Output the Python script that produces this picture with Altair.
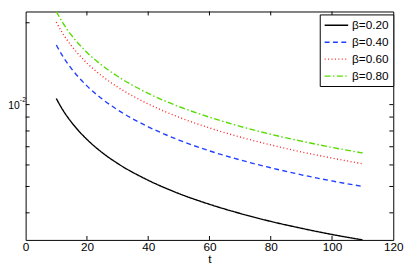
import altair as alt
import pandas as pd

t_vals = [10, 12, 15, 17, 20, 25, 30, 40, 50, 60, 70, 80, 90, 100, 110]
beta_020 = [0.01053, 0.00961, 0.00860, 0.00808, 0.00745, 0.00666, 0.00608, 0.00527, 0.00471,
            0.00430, 0.00398, 0.00372, 0.00351, 0.00333, 0.00318]
beta_040 = [0.01657, 0.01513, 0.01353, 0.01271, 0.01172, 0.01048, 0.00957, 0.00829, 0.00741,
            0.00676, 0.00626, 0.00586, 0.00552, 0.00524, 0.00500]
beta_060 = [0.02011, 0.01836, 0.01642, 0.01543, 0.01422, 0.01272, 0.01161, 0.01006, 0.00899,
            0.00821, 0.00760, 0.00711, 0.00670, 0.00636, 0.00606]
beta_080 = [0.02201, 0.02009, 0.01797, 0.01688, 0.01556, 0.01392, 0.01271, 0.01100, 0.00984,
            0.00899, 0.00832, 0.00778, 0.00734, 0.00696, 0.00664]
series_names = ["β=0.20", "β=0.40", "β=0.60", "β=0.80"]
series_colors = ["#000000", "#1f3fff", "#ff2020", "#55dd00"]
series_dashes = [[1, 0], [5, 3.5], [1, 2.5], [6, 2.5, 1.5, 2.5]]

x_ticks = [0, 20, 40, 60, 80, 100, 120]
y_minor = [0.004, 0.005, 0.006, 0.007, 0.008, 0.009, 0.01, 0.02]
y_domain = [0.00318, 0.0220]
y_label_values = [0.01]
y_label_base = ["10"]
y_label_exp = ["-2"]

rows = []
for name, vals in zip(series_names, [beta_020, beta_040, beta_060, beta_080]):
    for t, v in zip(t_vals, vals):
        rows.append({"t": t, "v": v, "series": name})
df = pd.DataFrame(rows)

W, H = 375, 233
FONT = "Liberation Sans"

xscale = alt.Scale(domain=[0, 120], nice=False, zero=False)
yscale = alt.Scale(type="log", domain=y_domain, nice=False)

lines = alt.Chart(df).mark_line(strokeWidth=1.4, interpolate="monotone", clip=True).encode(
    x=alt.X("t:Q", scale=xscale,
            axis=alt.Axis(values=x_ticks, ticks=False, domain=False, grid=False, title="t",
                          labelFont=FONT, labelFontSize=12, labelColor="#000", labelPadding=2,
                          titleFont=FONT, titleFontSize=12, titleFontWeight="normal",
                          titleColor="#000", titleY=23, titleBaseline="alphabetic",
                          labelFlush=False)),
    y=alt.Y("v:Q", scale=yscale, axis=None),
    color=alt.Color("series:N", scale=alt.Scale(domain=series_names, range=series_colors),
                    legend=alt.Legend(title=None, orient="none", legendX=300, legendY=3,
                                      symbolType="M-1,0H3", symbolSize=144,
                                      symbolStrokeWidth=1.4,
                                      labelFont=FONT, labelFontSize=12, labelColor="#000",
                                      fillColor="white", strokeColor="#000", padding=4,
                                      rowPadding=4.3, labelOffset=15, cornerRadius=0)),
    strokeDash=alt.StrokeDash("series:N",
                              scale=alt.Scale(domain=series_names, range=series_dashes),
                              legend=None),
)

xt = pd.DataFrame({"t": x_ticks[1:-1]})
yt = pd.DataFrame({"v": y_minor})
yl = pd.DataFrame({"v": y_label_values, "base": y_label_base, "exp": y_label_exp})

xt_bottom = alt.Chart(xt).mark_rule(color="#000", strokeWidth=1).encode(
    x=alt.X("t:Q", scale=xscale), y=alt.value(H - 4), y2=alt.value(H))
xt_top = alt.Chart(xt).mark_rule(color="#000", strokeWidth=1).encode(
    x=alt.X("t:Q", scale=xscale), y=alt.value(0), y2=alt.value(4))
yt_left = alt.Chart(yt).mark_rule(color="#000", strokeWidth=1).encode(
    y=alt.Y("v:Q", scale=yscale), x=alt.value(0), x2=alt.value(4))
yt_right = alt.Chart(yt).mark_rule(color="#000", strokeWidth=1).encode(
    y=alt.Y("v:Q", scale=yscale), x=alt.value(W - 4), x2=alt.value(W))

ylab_base = alt.Chart(yl).mark_text(font=FONT, fontSize=10.5, color="#000", align="right",
                                    baseline="middle", dy=1).encode(
    y=alt.Y("v:Q", scale=yscale), x=alt.value(-6), text="base:N")
ylab_exp = alt.Chart(yl).mark_text(font=FONT, fontSize=7, color="#000", align="left",
                                   baseline="middle", dy=-5).encode(
    y=alt.Y("v:Q", scale=yscale), x=alt.value(-5.9), text="exp:N")

chart = alt.layer(lines, xt_bottom, xt_top, yt_left, yt_right, ylab_base, ylab_exp).properties(
    width=W, height=H,
    autosize=alt.AutoSizeParams(type="none"),
    padding={"left": 18, "top": 1, "right": 14, "bottom": 23},
    background="white",
).configure_view(stroke="#000", strokeWidth=1)

chart.save("out.html", embed_options={"renderer": "svg", "actions": False})
